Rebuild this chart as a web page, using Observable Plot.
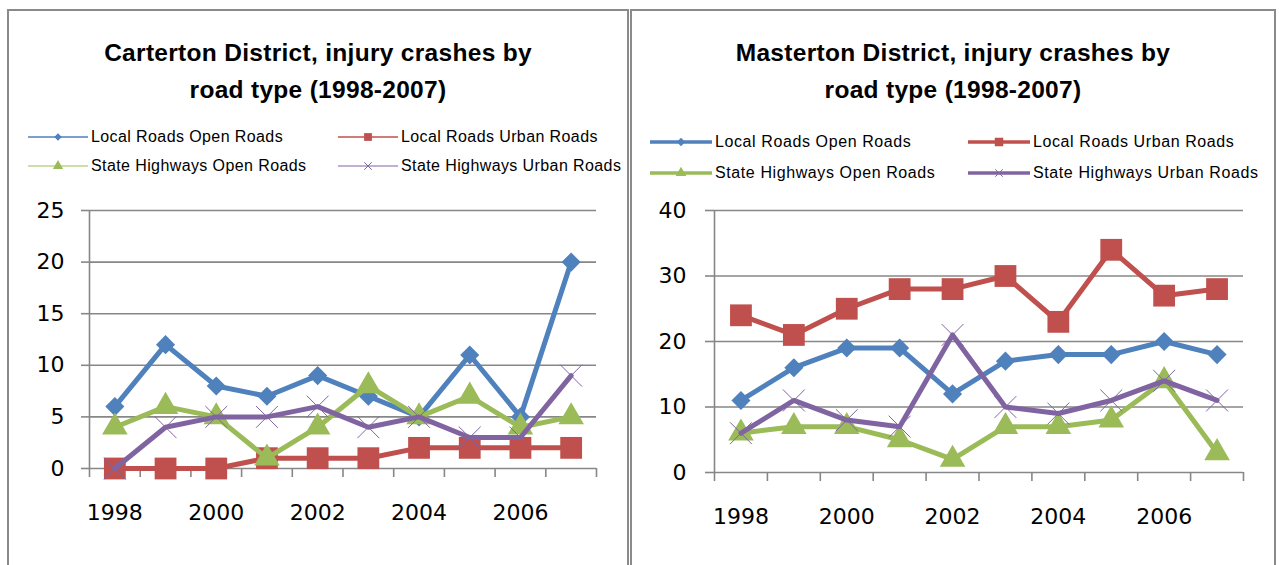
<!DOCTYPE html>
<html>
<head>
<meta charset="utf-8">
<script src="https://cdn.jsdelivr.net/npm/d3@7"></script>
<script src="https://cdn.jsdelivr.net/npm/@observablehq/plot@0.6"></script>
<style>
  body { margin: 0; background: #fff; }
  #root { position: relative; width: 1279px; height: 565px; overflow: hidden; background: #fff; font-family: "Liberation Sans", Arial, sans-serif; }
  .panel { position: absolute; border: 2px solid #8a8a8a; background: #fff; }
  .title { position: absolute; text-align: center; font-weight: bold; font-size: 24.5px; line-height: 37px; color: #000; white-space: nowrap; letter-spacing: 0.3px; }
  .leg { position: absolute; display: flex; align-items: center; font-size: 16px; color: #000; white-space: nowrap; letter-spacing: 0.4px; }
  .leg svg { margin-right: 3px; overflow: visible; }
  .plotbox { position: absolute; }
</style>
</head>
<body>
<div id="root"></div>
<script>
const years = [1998, 1999, 2000, 2001, 2002, 2003, 2004, 2005, 2006, 2007];
const seriesNames = ["Local Roads Open Roads", "Local Roads Urban Roads", "State Highways Open Roads", "State Highways Urban Roads"];
const seriesColors = ["#4F81BD", "#C0504D", "#9BBB59", "#8064A2"];
const seriesSymbols = ["diamond2", "square", "triangle", "times"];

const cartertonLocalOpen   = [6, 12, 8, 7, 9, 7, 5, 11, 5, 20];
const cartertonLocalUrban  = [0, 0, 0, 1, 1, 1, 2, 2, 2, 2];
const cartertonStateOpen   = [4, 6, 5, 1, 4, 8, 5, 7, 4, 5];
const cartertonStateUrban  = [0, 4, 5, 5, 6, 4, 5, 3, 3, 9];
const cartertonYTicks = [0, 5, 10, 15, 20, 25];

const mastertonLocalOpen   = [11, 16, 19, 19, 12, 17, 18, 18, 20, 18];
const mastertonLocalUrban  = [24, 21, 25, 28, 28, 30, 23, 34, 27, 28];
const mastertonStateOpen   = [6, 7, 7, 5, 2, 7, 7, 8, 14, 3];
const mastertonStateUrban  = [6, 11, 8, 7, 21, 10, 9, 11, 14, 11];
const mastertonYTicks = [0, 10, 20, 30, 40];

const xLabelTicks = [1998, 2000, 2002, 2004, 2006];

const root = document.getElementById("root");

function el(tag, cls, style, html) {
  const e = document.createElement(tag);
  if (cls) e.className = cls;
  Object.assign(e.style, style || {});
  if (html != null) e.innerHTML = html;
  root.appendChild(e);
  return e;
}

function swatch(i, w, lineW, markR) {
  const svg = d3.create("svg").attr("width", w).attr("height", 16);
  svg.append("line").attr("x1", 0).attr("x2", w).attr("y1", 8).attr("y2", 8)
    .attr("stroke", seriesColors[i]).attr("stroke-width", lineW);
  const symMap = { diamond2: d3.symbolDiamond2, square: d3.symbolSquare, triangle: d3.symbolTriangle, times: d3.symbolTimes };
  const sym = d3.symbol(symMap[seriesSymbols[i]], Math.PI * markR * markR);
  const p = svg.append("path").attr("d", sym()).attr("transform", `translate(${w / 2},8)`);
  if (seriesSymbols[i] === "times") p.attr("fill", "none").attr("stroke", seriesColors[i]).attr("stroke-width", 1);
  else p.attr("fill", seriesColors[i]);
  return svg.node();
}

function legend(items) {
  items.forEach(it => {
    const d = el("div", "leg", { left: it.x + "px", top: (it.y - 10) + "px", height: "20px", letterSpacing: it.ls || "0.4px", fontSize: (it.fs || 16) + "px" });
    d.appendChild(swatch(it.i, it.w, it.lw, it.mr));
    const s = document.createElement("span");
    s.textContent = seriesNames[it.i];
    d.appendChild(s);
  });
}

function chart(cfg) {
  const series = cfg.values.map((vals, i) => years.map((y, j) => ({ year: y, value: vals[j], series: seriesNames[i] })));
  const marks = [
    Plot.gridY(cfg.yTicks, { stroke: "#878787", strokeOpacity: 1, strokeWidth: 1.6 }),
    Plot.axisY(cfg.yTicks, { tickSize: cfg.tickSizeY, tickPadding: cfg.padY, stroke: "#878787", strokeOpacity: 1, strokeWidth: 1.6, fontSize: 22, fill: "#000", label: null }),
    Plot.ruleX([1997.5], { y1: 0, y2: cfg.yMax, stroke: "#878787", strokeWidth: 1.6 }),
    Plot.axisX(d3.range(1997.5, 2008, 1), { tickSize: 9, stroke: "#878787", strokeOpacity: 1, strokeWidth: 1.6, tickFormat: () => "", label: null }),
    Plot.axisX(xLabelTicks, { tickSize: 0, tickPadding: 36, fontSize: 22, fill: "#000", tickFormat: d => String(d), label: null })
  ];
  series.forEach((rows, i) => {
    marks.push(Plot.line(rows, { x: "year", y: "value", stroke: seriesColors[i], strokeWidth: 5, strokeLinejoin: "round" }));
    const sym = seriesSymbols[i];
    if (sym === "times") {
      marks.push(Plot.dot(rows, { x: "year", y: "value", symbol: sym, r: cfg.r[i], stroke: seriesColors[i], strokeWidth: 1 }));
    } else {
      marks.push(Plot.dot(rows, { x: "year", y: "value", symbol: sym, r: cfg.r[i], fill: seriesColors[i], stroke: "none" }));
    }
  });
  const p = Plot.plot({
    width: cfg.width,
    height: cfg.height,
    marginLeft: cfg.ml,
    marginRight: cfg.mr,
    marginTop: cfg.mt,
    marginBottom: cfg.mb,
    style: { background: "transparent", overflow: "visible", fontFamily: "\"DejaVu Sans\", sans-serif" },
    x: { domain: [1997.5, 2007.5], axis: null },
    y: { domain: [0, cfg.yMax], axis: null },
    marks
  });
  const box = el("div", "plotbox", { left: cfg.left + "px", top: cfg.top + "px" });
  box.appendChild(p);
}

// Panels
el("div", "panel", { left: "7px", top: "9px", width: "618px", height: "600px" });
el("div", "panel", { left: "630px", top: "9px", width: "642px", height: "600px" });

// Titles
el("div", "title", { left: "7px", width: "622px", top: "34px" }, "Carterton District, injury crashes by<br>road type (1998-2007)");
el("div", "title", { left: "630px", width: "646px", top: "34px" }, "Masterton District, injury crashes by<br>road type (1998-2007)");

// Legends
legend([
  { i: 0, x: 28, y: 137, w: 60, lw: 1.6, mr: 3.4 },
  { i: 1, x: 338, y: 137, w: 60, lw: 1.6, mr: 4.4 },
  { i: 2, x: 28, y: 166, w: 60, lw: 1.2, mr: 3.8 },
  { i: 3, x: 338, y: 166, w: 60, lw: 1.2, mr: 3.5 }
]);
legend([
  { i: 0, x: 650, y: 142, w: 62, lw: 3.5, mr: 3.8, ls: "0.6px" },
  { i: 1, x: 968, y: 142, w: 62, lw: 3.5, mr: 4.8, ls: "0.6px" },
  { i: 2, x: 650, y: 173, w: 62, lw: 3.5, mr: 4, ls: "0.6px" },
  { i: 3, x: 968, y: 173, w: 62, lw: 3.5, mr: 3.5, ls: "0.6px" }
]);

// Charts
chart({
  values: [cartertonLocalOpen, cartertonLocalUrban, cartertonStateOpen, cartertonStateUrban],
  yTicks: cartertonYTicks, yMax: 25,
  left: 0, top: 190, width: 628, height: 355,
  ml: 89, mr: 32, mt: 20, mb: 77,
  tickSizeY: 8, padY: 17,
  r: [8.6, 12.3, 9.5, 10]
});
chart({
  values: [mastertonLocalOpen, mastertonLocalUrban, mastertonStateOpen, mastertonStateUrban],
  yTicks: mastertonYTicks, yMax: 40,
  left: 632, top: 190, width: 647, height: 355,
  ml: 82, mr: 36, mt: 20, mb: 73,
  tickSizeY: 9, padY: 19,
  r: [8.6, 12.3, 9.5, 10]
});
</script>
</body>
</html>
